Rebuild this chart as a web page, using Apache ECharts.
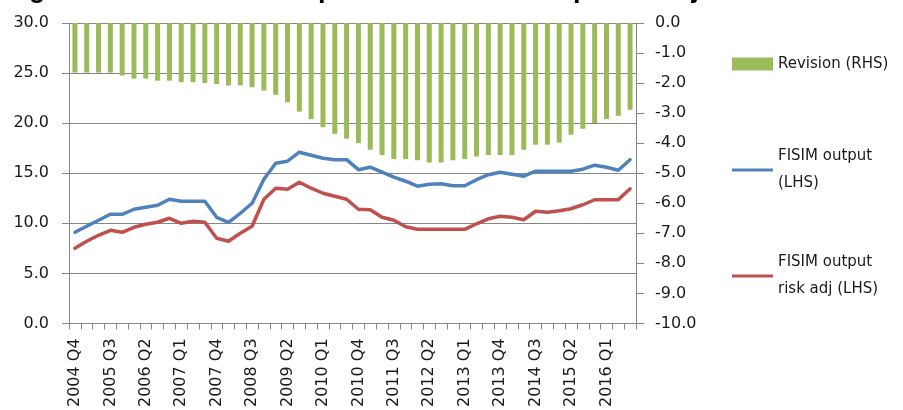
<!DOCTYPE html>
<html>
<head>
<meta charset="utf-8">
<script src="https://cdn.jsdelivr.net/npm/echarts@6/dist/echarts.min.js"></script>
<style>
  html, body { margin: 0; padding: 0; background: #fff; }
  #chart { width: 903px; height: 410px; }
</style>
</head>
<body>
<div id="chart"></div>
<script>
// Quarterly periods, 2004 Q4 to 2016 Q3
const categories = [
  '2004 Q4',
  '2005 Q1', '2005 Q2', '2005 Q3', '2005 Q4',
  '2006 Q1', '2006 Q2', '2006 Q3', '2006 Q4',
  '2007 Q1', '2007 Q2', '2007 Q3', '2007 Q4',
  '2008 Q1', '2008 Q2', '2008 Q3', '2008 Q4',
  '2009 Q1', '2009 Q2', '2009 Q3', '2009 Q4',
  '2010 Q1', '2010 Q2', '2010 Q3', '2010 Q4',
  '2011 Q1', '2011 Q2', '2011 Q3', '2011 Q4',
  '2012 Q1', '2012 Q2', '2012 Q3', '2012 Q4',
  '2013 Q1', '2013 Q2', '2013 Q3', '2013 Q4',
  '2014 Q1', '2014 Q2', '2014 Q3', '2014 Q4',
  '2015 Q1', '2015 Q2', '2015 Q3', '2015 Q4',
  '2016 Q1', '2016 Q2', '2016 Q3'
];

// Revision (right-hand scale)
const revision = [
  -1.65, -1.65, -1.65, -1.65, -1.75, -1.85, -1.85, -1.92,
  -1.92, -1.97, -1.97, -2.00, -2.03, -2.08, -2.08, -2.14,
  -2.25, -2.39, -2.64, -2.95, -3.20, -3.47, -3.69, -3.85,
  -4.00, -4.22, -4.39, -4.53, -4.53, -4.57, -4.64, -4.64,
  -4.57, -4.53, -4.44, -4.39, -4.39, -4.39, -4.22, -4.05,
  -4.05, -3.98, -3.72, -3.52, -3.33, -3.20, -3.09, -2.89
];

// FISIM output (left-hand scale)
const fisimOutput = [
  9.1, 9.7, 10.3, 10.9, 10.9, 11.4, 11.6, 11.8,
  12.4, 12.2, 12.2, 12.2, 10.6, 10.1, 11.0, 12.0,
  14.4, 16.0, 16.2, 17.1, 16.8, 16.5, 16.35, 16.35,
  15.35, 15.6, 15.1, 14.6, 14.2, 13.7, 13.9, 13.95,
  13.75, 13.75, 14.35, 14.85, 15.1, 14.9, 14.7, 15.2,
  15.2, 15.2, 15.2, 15.4, 15.8, 15.6, 15.3, 16.35
];

// FISIM output, risk adjusted (left-hand scale)
const fisimRiskAdj = [
  7.5, 8.2, 8.8, 9.3, 9.1, 9.6, 9.9, 10.1,
  10.5, 10.0, 10.2, 10.1, 8.5, 8.2, 9.0, 9.7,
  12.4, 13.5, 13.4, 14.1, 13.5, 13.0, 12.7, 12.4,
  11.4, 11.35, 10.6, 10.3, 9.65, 9.4, 9.4, 9.4,
  9.4, 9.4, 9.95, 10.45, 10.7, 10.6, 10.35, 11.2,
  11.1, 11.25, 11.45, 11.85, 12.35, 12.35, 12.35, 13.45
];

const seriesNames = ['Revision (RHS)', 'FISIM output (LHS)', 'FISIM output risk adj (LHS)'];
const legendText = {
  'Revision (RHS)': 'Revision (RHS)',
  'FISIM output (LHS)': 'FISIM output\n(LHS)',
  'FISIM output risk adj (LHS)': 'FISIM output\nrisk adj (LHS)'
};

// Heading sits above the top edge of the canvas
const titleText = 'Figure 4: Total FISIM output on loans and deposits adjusted for default';

const FONT = '"DejaVu Sans", "Liberation Sans", sans-serif';
const AXIS_GREY = '#868686';
const TEXT = '#1a1a1a';
const fmt1 = v => Number(v).toFixed(1);

const chart = echarts.init(document.getElementById('chart'), null, { renderer: 'canvas' });

const lineLegend = (name, top) => ({
  data: [name],
  left: 732,
  top: top,
  padding: 0,
  orient: 'vertical',
  icon: 'rect',
  itemWidth: 41,
  itemHeight: 3,
  selectedMode: false,
  formatter: n => legendText[n],
  textStyle: {
    fontFamily: FONT, fontSize: 15, color: TEXT,
    lineHeight: 27, padding: [27, 0, 0, 0]
  }
});

chart.setOption({
  animation: false,
  backgroundColor: '#ffffff',
  textStyle: { fontFamily: FONT },
  graphic: [{
    type: 'text',
    left: 5,
    top: -24,
    silent: true,
    style: {
      text: titleText,
      font: 'bold 27px "Liberation Sans", sans-serif',
      fill: '#000'
    }
  }],
  grid: { left: 69, right: 267, top: 23, bottom: 86 },
  legend: [
    {
      data: [seriesNames[0]],
      left: 732,
      top: 55,
      padding: 0,
      icon: 'rect',
      itemWidth: 41,
      itemHeight: 13,
      selectedMode: false,
      formatter: n => legendText[n],
      textStyle: { fontFamily: FONT, fontSize: 15, color: TEXT, lineHeight: 18 }
    },
    lineLegend(seriesNames[1], 129.5),
    lineLegend(seriesNames[2], 235.5)
  ],
  xAxis: {
    type: 'category',
    data: categories,
    boundaryGap: true,
    axisLine: { onZero: false, lineStyle: { color: AXIS_GREY, width: 1 } },
    axisTick: { show: true, interval: 0, length: 6, lineStyle: { color: AXIS_GREY } },
    axisLabel: {
      interval: 2, rotate: 90, margin: 15,
      fontFamily: FONT, fontSize: 16, color: TEXT
    },
    splitLine: { show: false }
  },
  yAxis: [
    {
      type: 'value', position: 'left', min: 0, max: 30, interval: 5,
      axisLine: { show: true, lineStyle: { color: AXIS_GREY } },
      axisTick: { show: true, length: 7, lineStyle: { color: AXIS_GREY } },
      splitLine: { show: true, lineStyle: { color: AXIS_GREY, width: 1 } },
      axisLabel: { formatter: fmt1, margin: 20, fontFamily: FONT, fontSize: 16, color: TEXT }
    },
    {
      type: 'value', position: 'right', min: -10, max: 0, interval: 1,
      axisLine: { show: true, lineStyle: { color: AXIS_GREY } },
      axisTick: { show: true, length: 8, lineStyle: { color: AXIS_GREY } },
      splitLine: { show: false },
      axisLabel: { formatter: fmt1, margin: 19, fontFamily: FONT, fontSize: 16, color: TEXT }
    }
  ],
  series: [
    {
      name: seriesNames[0],
      type: 'bar',
      yAxisIndex: 1,
      data: revision,
      barWidth: 5,
      itemStyle: { color: '#9bbb59' }
    },
    {
      name: seriesNames[1],
      type: 'line',
      yAxisIndex: 0,
      data: fisimOutput,
      symbol: 'none',
      lineStyle: { color: '#4f81bd', width: 3.5, join: 'round', cap: 'round' },
      itemStyle: { color: '#4f81bd' }
    },
    {
      name: seriesNames[2],
      type: 'line',
      yAxisIndex: 0,
      data: fisimRiskAdj,
      symbol: 'none',
      lineStyle: { color: '#c0504d', width: 3.5, join: 'round', cap: 'round' },
      itemStyle: { color: '#c0504d' }
    }
  ]
});
</script>
</body>
</html>
